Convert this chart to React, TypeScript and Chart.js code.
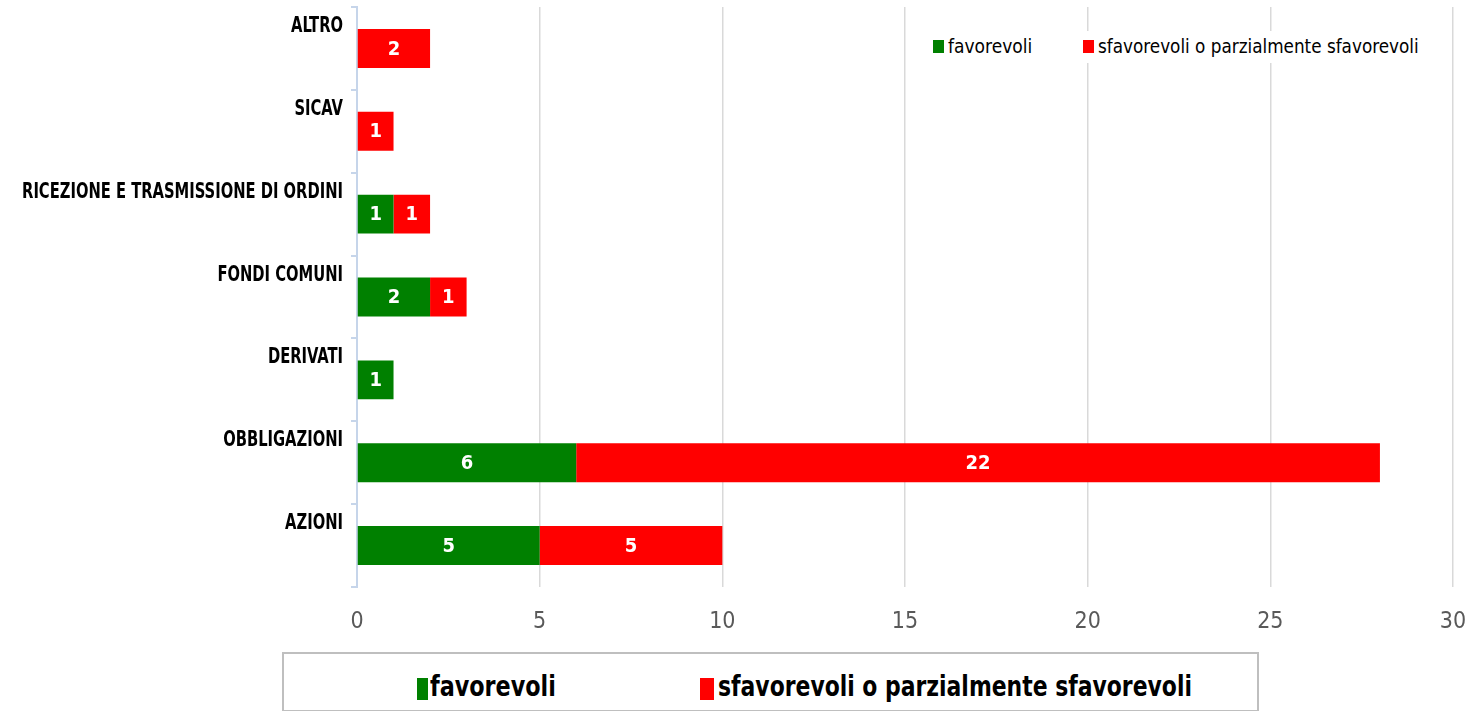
import React, { useEffect, useRef } from 'react';
import { Chart, registerables } from 'chart.js';
Chart.register(...registerables);

const categories = ['ALTRO', 'SICAV', 'RICEZIONE E TRASMISSIONE DI ORDINI', 'FONDI COMUNI', 'DERIVATI', 'OBBLIGAZIONI', 'AZIONI'];
const favorevoli = [0, 0, 1, 2, 1, 6, 5];
const sfavorevoli = [2, 1, 1, 1, 0, 22, 5];
const seriesNames = ['favorevoli', 'sfavorevoli o parzialmente sfavorevoli'];
const xMin = 0;
const xMax = 30;
const xStep = 5;

const GREEN = '#008000';
const RED = '#ff0000';
const FONT = '"Liberation Sans Narrow", "DejaVu Sans Condensed", "Liberation Sans", sans-serif';

const barLabels = {
  id: 'barLabels',
  afterDatasetsDraw(chart: any) {
    const ctx = chart.ctx;
    ctx.save();
    ctx.font = `bold 20px ${FONT}`;
    ctx.fillStyle = '#ffffff';
    ctx.textAlign = 'center';
    ctx.textBaseline = 'middle';
    chart.data.datasets.forEach((ds: any, di: number) => {
      const meta = chart.getDatasetMeta(di);
      meta.data.forEach((el: any, i: number) => {
        const v = ds.data[i];
        if (!v) return;
        const p = el.getProps(['x', 'base', 'y'], true);
        ctx.fillText(String(v), (p.x + p.base) / 2, p.y + 1);
      });
    });
    ctx.restore();
  },
};

// Category labels of the y axis, drawn in a narrow bold face above each bar
const yLabels = {
  id: 'yLabels',
  afterDraw(chart: any) {
    const ctx = chart.ctx;
    const y = chart.scales.y;
    ctx.save();
    ctx.font = `bold 21px ${FONT}`;
    ctx.fillStyle = '#000000';
    ctx.textAlign = 'right';
    ctx.textBaseline = 'alphabetic';
    (chart.data.labels as string[]).forEach((lab, i) => {
      const py = y.getPixelForValue(i);
      ctx.save();
      ctx.translate(y.right - 14, py - 16.5);
      ctx.scale(0.78, 1);
      ctx.fillText(lab, 0, 0);
      ctx.restore();
    });
    ctx.restore();
  },
};

export default function App() {
  const ref = useRef<HTMLCanvasElement>(null);
  useEffect(() => {
    if (!ref.current) return;
    const chart = new Chart(ref.current, {
      type: 'bar',
      data: {
        labels: categories,
        datasets: [
          { label: seriesNames[0], data: favorevoli, backgroundColor: GREEN, borderWidth: 0 },
          { label: seriesNames[1], data: sfavorevoli, backgroundColor: RED, borderWidth: 0 },
        ],
      },
      options: {
        indexAxis: 'y',
        responsive: false,
        animation: false,
        maintainAspectRatio: false,
        layout: { padding: { left: 0, right: 19, top: 7, bottom: 0 } },
        datasets: { bar: { barPercentage: 0.47, categoryPercentage: 1 } },
        plugins: { legend: { display: false }, tooltip: { enabled: false } },
        scales: {
          x: {
            stacked: true,
            min: xMin,
            max: xMax,
            ticks: { stepSize: xStep, color: '#595959', font: { family: FONT, size: 23 }, padding: 21 },
            grid: { color: '#d9d9d9', lineWidth: 1.5, drawTicks: false },
            border: { display: false },
            afterFit: (s: any) => { s.height = 53; s.paddingLeft = 0; s.paddingRight = 0; },
          },
          y: {
            stacked: true,
            grid: { display: true, drawOnChartArea: false, drawTicks: true, tickLength: 6, color: '#c6d5ea', lineWidth: 2, offset: true },
            border: { display: true, color: '#c6d5ea', width: 2 },
            ticks: { display: false },
            afterFit: (s: any) => { s.width = 357; s.paddingTop = 0; s.paddingBottom = 0; },
          },
        },
      },
      plugins: [barLabels, yLabels],
    });
    return () => chart.destroy();
  }, []);

  const sq = (color: string, left: number, top: number, w: number, h: number) => (
    <div style={{ position: 'absolute', left, top, width: w, height: h, background: color }} />
  );
  const txt = (s: string, left: number, top: number, size: number, weight: string, sx: number) => (
    <div style={{ position: 'absolute', left, top, fontFamily: FONT, fontSize: size, fontWeight: weight as any, color: '#000', whiteSpace: 'nowrap', lineHeight: 1, transform: `scaleX(${sx})`, transformOrigin: 'left top' }}>{s}</div>
  );

  return (
    <div style={{ position: 'absolute', left: 0, top: 0, width: 1472, height: 711, background: '#fff', overflow: 'hidden' }}>
      <canvas ref={ref} width={1472} height={640} style={{ position: 'absolute', left: 0, top: 0, width: 1472, height: 640 }} />
      <div style={{ position: 'absolute', left: 922, top: 31, width: 505, height: 32, background: '#fff' }} />
      {sq(GREEN, 933, 40, 11, 13)}
      {txt(seriesNames[0], 948, 37, 19, 'normal', 1)}
      {sq(RED, 1083, 40, 11, 13)}
      {txt(seriesNames[1], 1098, 37, 19, 'normal', 0.985)}
      <div style={{ position: 'absolute', left: 282, top: 652, width: 973, height: 56, border: '2px solid #bfbfbf', background: '#fff' }} />
      {sq(GREEN, 417, 678, 11, 22)}
      {txt(seriesNames[0], 430, 672, 29, 'bold', 0.855)}
      {sq(RED, 700, 678, 14, 22)}
      {txt(seriesNames[1], 718, 672, 29, 'bold', 0.84)}
    </div>
  );
}
